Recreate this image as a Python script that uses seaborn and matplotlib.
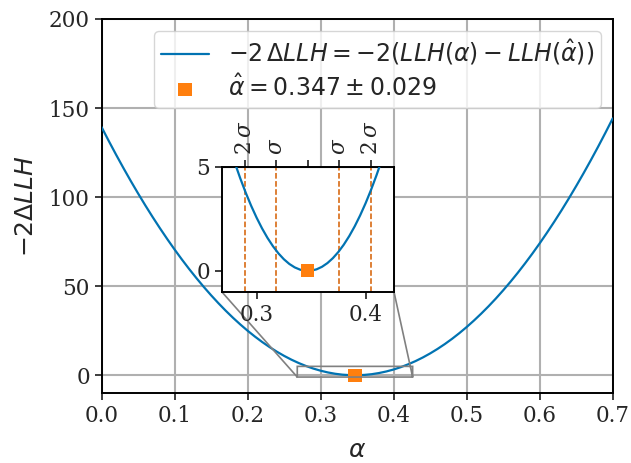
import numpy as np
import pandas as pd
import matplotlib
matplotlib.use("Agg")
import matplotlib.pyplot as plt
from matplotlib.ticker import MultipleLocator
import seaborn as sns

# scan of -2 dLLH vs alpha
alpha = [0.00, 0.01, 0.02, 0.03, 0.04, 0.05, 0.06, 0.07, 0.08, 0.09,
         0.10, 0.11, 0.12, 0.13, 0.14, 0.15, 0.16, 0.17, 0.18, 0.19,
         0.20, 0.21, 0.22, 0.23, 0.24, 0.25, 0.26, 0.27, 0.28, 0.29,
         0.30, 0.31, 0.32, 0.33, 0.34, 0.35, 0.36, 0.37, 0.38, 0.39,
         0.40, 0.41, 0.42, 0.43, 0.44, 0.45, 0.46, 0.47, 0.48, 0.49,
         0.50, 0.51, 0.52, 0.53, 0.54, 0.55, 0.56, 0.57, 0.58, 0.59,
         0.60, 0.61, 0.62, 0.63, 0.64, 0.65, 0.66, 0.67, 0.68, 0.69, 0.70]
dllh = [139.30, 131.39, 123.71, 116.26, 109.04, 102.05, 95.29, 88.77, 82.48, 76.42,
        70.58, 64.98, 59.61, 54.48, 49.57, 44.90, 40.46, 36.24, 32.26, 28.52,
        25.00, 21.72, 18.66, 15.84, 13.24, 10.89, 8.76, 6.86, 5.19, 3.76,
        2.56, 1.58, 0.84, 0.33, 0.06, 0.01, 0.20, 0.61, 1.26, 2.14,
        3.25, 4.59, 6.17, 7.97, 10.00, 12.27, 14.77, 17.50, 20.46, 23.66,
        27.08, 30.74, 34.63, 38.74, 43.09, 47.68, 52.49, 57.53, 62.81, 68.31,
        74.05, 80.03, 86.22, 92.65, 99.32, 106.22, 113.34, 120.70, 128.28, 136.11, 144.16]

# finer scan around the minimum (inset)
alpha_fine = [0.260, 0.265, 0.270, 0.275, 0.280, 0.285, 0.290, 0.295, 0.300,
              0.305, 0.310, 0.315, 0.320, 0.325, 0.330, 0.335, 0.340, 0.345,
              0.350, 0.355, 0.360, 0.365, 0.370, 0.375, 0.380, 0.385, 0.390,
              0.395, 0.400, 0.405, 0.410, 0.415, 0.420, 0.425, 0.430]
dllh_fine = [8.757, 7.779, 6.859, 5.997, 5.193, 4.447, 3.759, 3.128, 2.556,
             2.041, 1.584, 1.185, 0.843, 0.560, 0.334, 0.167, 0.057, 0.005,
             0.010, 0.074, 0.196, 0.375, 0.612, 0.907, 1.260, 1.671, 2.139,
             2.666, 3.250, 3.892, 4.592, 5.350, 6.165, 7.039, 7.970]

alpha_hat = 0.347
alpha_err = 0.029
sigma_steps = [-2, -1, 0, 1, 2]
sigma_labels = [r"$2\,\sigma$", r"$\sigma$", "", r"$\sigma$", r"$2\,\sigma$"]

df = pd.DataFrame({"alpha": alpha, "dllh": dllh})
df_fine = pd.DataFrame({"alpha": alpha_fine, "dllh": dllh_fine})

sns.set_style("ticks")
plt.rcParams["font.family"] = "serif"
plt.rcParams["font.serif"] = ["DejaVu Serif"]
plt.rcParams["mathtext.fontset"] = "dejavusans"

tick_fs = 15.5
label_fs = 18
leg_fs = 17
line_col = "#0173b2"
pt_col = "#ff7f0e"
sig_col = "#d55e00"

fig, ax = plt.subplots(figsize=(6.31, 4.63), dpi=100)
fig.subplots_adjust(left=0.161, right=0.971, top=0.959, bottom=0.151)

sns.lineplot(data=df, x="alpha", y="dllh", ax=ax, color=line_col, lw=1.6,
             label=r"$-2\,\Delta LLH = -2(LLH(\alpha) - LLH(\hat{\alpha}))$", zorder=3)
sns.scatterplot(x=[alpha_hat], y=[0], ax=ax, marker="s", s=90, color=pt_col,
                edgecolor="none", zorder=4,
                label=r"$\hat{\alpha} = 0.347 \pm 0.029$")

ax.set_xlim(0, 0.7)
ax.set_ylim(-10, 200)
ax.yaxis.set_major_locator(MultipleLocator(50))
ax.xaxis.set_major_locator(MultipleLocator(0.1))
ax.grid(True, color="#b0b0b0", lw=1.5)
ax.set_xlabel(r"$\alpha$", fontsize=label_fs, labelpad=9)
ax.set_ylabel(r"$-2\Delta LLH$", fontsize=label_fs, labelpad=8)
ax.tick_params(labelsize=tick_fs, width=1.25, length=5)
for s in ax.spines.values():
    s.set_linewidth(1.4)
    s.set_color("black")
ax.legend(loc="upper right", fontsize=leg_fs, framealpha=0.8, handlelength=2.0,
          borderpad=0.3, labelspacing=0.3)

# zoomed inset around the minimum
axin = ax.inset_axes([0.235, 0.271, 0.337, 0.334])
sns.lineplot(data=df_fine, x="alpha", y="dllh", ax=axin, color=line_col, lw=1.6, zorder=3)
sns.scatterplot(x=[alpha_hat], y=[0], ax=axin, marker="s", s=90, color=pt_col,
                edgecolor="none", zorder=4)
sig_pos = [alpha_hat + k * alpha_err for k in sigma_steps]
for k, p in zip(sigma_steps, sig_pos):
    if k != 0:
        axin.axvline(p, color=sig_col, ls="--", lw=1.1, zorder=2)
axin.set_xlim(0.268, 0.426)
axin.set_ylim(-1, 5)
axin.set_xticks([0.3, 0.4])
axin.set_yticks([0, 5])
axin.set_xlabel("")
axin.set_ylabel("")
axin.tick_params(labelsize=tick_fs, width=1.25, length=5)
for s in axin.spines.values():
    s.set_linewidth(1.4)
    s.set_color("black")
top = axin.secondary_xaxis("top")
top.set_xticks(sig_pos)
top.set_xticklabels(sigma_labels, rotation=90, fontsize=tick_fs)
for t in top.get_xticklabels():
    t.set_math_fontfamily("dejavuserif")
top.tick_params(width=1.25, length=5)

ax.indicate_inset_zoom(axin, edgecolor="#808080", alpha=1, lw=1.2)

fig.savefig("out.png", dpi=100)
